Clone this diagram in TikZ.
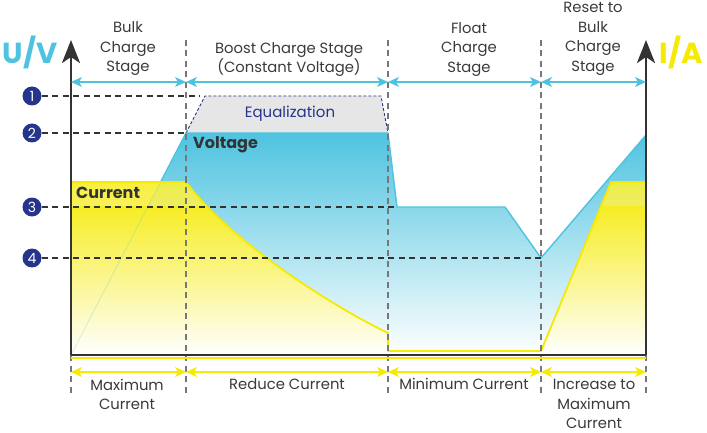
\documentclass[tikz,border=0pt]{standalone}
\usepackage{fontspec}
\setmainfont{Poppins}
\usetikzlibrary{arrows.meta}
\definecolor{vblue}{HTML}{4EC3E0}
\definecolor{cyel}{HTML}{F5EA00}
\definecolor{navy}{HTML}{26358C}
\definecolor{dark}{HTML}{333333}
\definecolor{txt}{HTML}{3A3A3A}
\definecolor{dgray}{HTML}{777777}
\definecolor{eqgray}{HTML}{E6E6E6}
\begin{document}
\begin{tikzpicture}[x=1pt,y=-1pt,
  lbl/.style={font=\fontsize{14.8}{19.5}\selectfont, text=txt, align=center, inner sep=0pt},
  bold/.style={font=\bfseries\fontsize{16}{18}\selectfont, text=dark, anchor=west, inner sep=0pt},
  numc/.style={circle, fill=navy, text=white, minimum size=19pt, inner sep=0pt, font=\fontsize{14}{14}\selectfont},
  hdash/.style={dark, line width=1.8pt, dash pattern=on 6pt off 4.5pt},
  vdash/.style={dgray, line width=1.8pt, dash pattern=on 6pt off 4.5pt},
  axis/.style={dark, line width=2.8pt},
  axtip/.style={-{Stealth[length=23pt, width=18pt, inset=6pt]}},
  barrow/.style={vblue, line width=1.3pt, {Stealth[length=11pt,width=10pt,inset=3pt]}-{Stealth[length=11pt,width=10pt,inset=3pt]}},
  yarrow/.style={cyel, line width=1.3pt, {Stealth[length=11pt,width=10pt,inset=3pt]}-{Stealth[length=11pt,width=10pt,inset=3pt]}}
]
\useasboundingbox (0,0) rectangle (707,433);

% key coordinates
\coordinate (O) at (71,355);
\coordinate (R) at (646,355);
\coordinate (Lt) at (71,40);
\coordinate (Rt) at (646,40);

% voltage fill
\fill[top color=vblue, bottom color=white] (71,355) -- (186,133) -- (388,133) -- (397,207) -- (505,207) -- (541,258) -- (646,135) -- (646,355) -- cycle;
% equalization
\fill[eqgray] (186,133) -- (205,96) -- (381,96) -- (388,133) -- cycle;
\draw[navy, line width=0.9pt, dash pattern=on 3pt off 2pt] (186,133) -- (205,96) -- (381,96) -- (388,133);
\node[lbl, text=navy, font=\fontsize{15}{18}\selectfont] (eq) at (290,114) {Equalization};
% voltage line
\draw[vblue, line width=1.4pt, line join=round] (71,355) -- (186,133) -- (388,133) -- (397,207) -- (505,207) -- (541,258) -- (646,135);

% current fill
\fill[top color=cyel, bottom color=white] (71,182) -- (186,182) .. controls (225,235) and (320,300) .. (388,333) -- (388,351) -- (541,351) -- (611,182) -- (646,182) -- (646,355) -- (71,355) -- cycle;
% faint voltage area seen through the current area
\begin{scope}
  \clip (71,182) -- (186,182) .. controls (225,235) and (320,300) .. (388,333) -- (388,351) -- (541,351) -- (611,182) -- (646,182) -- (646,355) -- (71,355) -- cycle;
  \fill[white, opacity=0.25] (71,182) rectangle (646,206);
  \fill[vblue, opacity=0.06] (71,355) -- (186,133) -- (646,133) -- (646,206) -- (148.2,206) -- cycle;
  \draw[vblue, line width=1pt, opacity=0.2] (71,355) -- (186,133);
\end{scope}
\draw[cyel, line width=1.8pt, line join=round] (71,182) -- (186,182) .. controls (225,235) and (320,300) .. (388,333) -- (388,351) -- (541,351) -- (611,182) -- (646,182);

% horizontal reference levels
\node[numc] (n1) at (32,96) {1};
\node[numc] (n2) at (32,133) {2};
\node[numc] (n3) at (32,207) {3};
\node[numc] (n4) at (32,258) {4};
\coordinate (e1) at (200,96);
\coordinate (e2) at (186,133);
\coordinate (e3) at (398,207);
\coordinate (e4) at (541,258);
\draw[hdash] (n1.east) -- (e1);
\draw[hdash] (n2.east) -- (e2);
\draw[hdash] (n3.east) -- (e3);
\draw[hdash] (n4.east) -- (e4);

% stage separators
\coordinate (s1t) at (186,40); \coordinate (s1b) at (186,397);
\coordinate (s2t) at (388,40); \coordinate (s2b) at (388,397);
\coordinate (s3t) at (541,40); \coordinate (s3b) at (541,397);
\coordinate (Ob) at (71,395); \coordinate (Rb) at (646,395);
\draw[vdash] (s1t) -- (s1b);
\draw[vdash] (s2t) -- (s2b);
\draw[vdash] (s3t) -- (s3b);
\draw[vdash] (O) -- (Ob);
\draw[vdash] (R) -- (Rb);

% labels inside
\node[bold] (volt) at (193,145) {Voltage};
\node[bold] (curr) at (76,193) {Current};

% axes
\draw[cyel, line width=1.4pt] (71,357.8) -- (646,357.8);
\draw[axis] (O) -- (R);
\draw[axis, axtip] (O) -- (Lt);
\draw[axis, axtip] (R) -- (Rt);
\node[font=\bfseries\fontsize{29}{29}\selectfont, text=vblue, inner sep=0pt] (uv) at (30,52) {U/V};
\node[font=\bfseries\fontsize{29}{29}\selectfont, text=cyel, inner sep=0pt] (ia) at (681,52) {I/A};

% stage arrows (top)
\coordinate (a0) at (71,82); \coordinate (a1) at (186,82); \coordinate (a2) at (388,82); \coordinate (a3) at (541,82); \coordinate (a4) at (646,82);
\draw[barrow] (a0) -- (a1);
\draw[barrow] (a1) -- (a2);
\draw[barrow] (a2) -- (a3);
\draw[barrow] (a3) -- (a4);
% current arrows (bottom)
\coordinate (b0) at (71,372); \coordinate (b1) at (186,372); \coordinate (b2) at (388,372); \coordinate (b3) at (541,372); \coordinate (b4) at (646,372);
\draw[yarrow] (b0) -- (b1);
\draw[yarrow] (b1) -- (b2);
\draw[yarrow] (b2) -- (b3);
\draw[yarrow] (b3) -- (b4);

% stage titles
\node[lbl] (t1) at (128,49) {Bulk\\Charge\\Stage};
\node[lbl] (t2) at (289,59.5) {Boost Charge Stage\\(Constant Voltage)};
\node[lbl] (t3) at (469,49.5) {Float\\Charge\\Stage};
\node[lbl] (t4) at (593,39) {Reset to\\Bulk\\Charge\\Stage};
% current titles
\node[lbl] (c1) at (127,394.5) {Maximum\\Current};
\node[lbl] (c2) at (287,384) {Reduce Current};
\node[lbl] (c3) at (464,384) {Minimum Current};
\node[lbl] (c4) at (594,404) {Increase to\\Maximum\\Current};
\end{tikzpicture}
\end{document}
